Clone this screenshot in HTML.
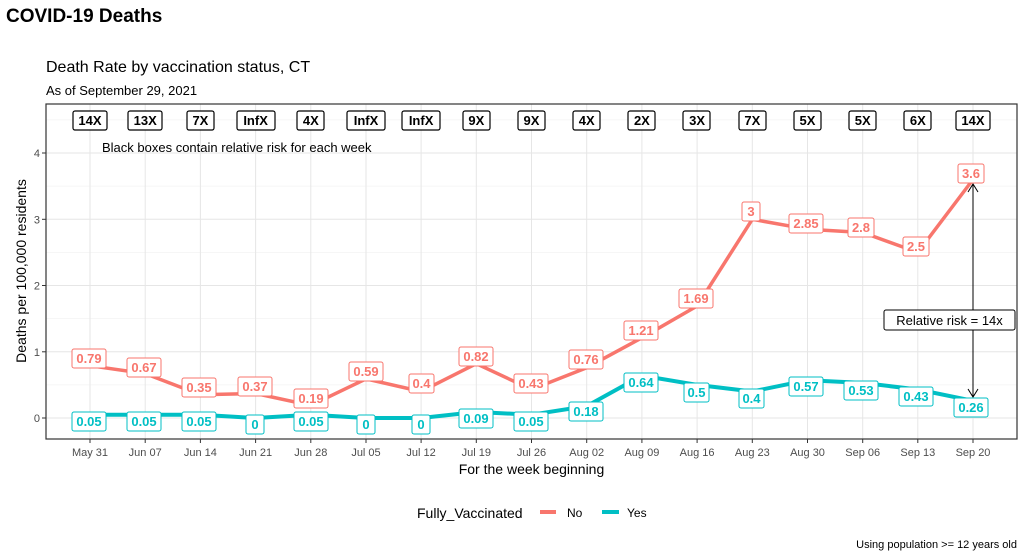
<!DOCTYPE html>
<html><head><meta charset="utf-8"><style>
body{margin:0;background:#fff;width:1029px;height:560px;overflow:hidden}
svg{display:block;font-family:"Liberation Sans",Arial,sans-serif}
.rl{fill:#fff;stroke:#F8766D;stroke-width:1}
.rt{fill:#F8766D;font-weight:bold;font-size:13px;text-anchor:middle}
.tl{fill:#fff;stroke:#00BFC4;stroke-width:1}
.tt{fill:#00BFC4;font-weight:bold;font-size:13px;text-anchor:middle}
.bb{fill:#fff;stroke:#000;stroke-width:1.2}
.bt{fill:#000;font-weight:bold;font-size:13px;text-anchor:middle}
.xt{fill:#4d4d4d;font-size:11px;text-anchor:middle}
.yt{fill:#4d4d4d;font-size:11px;text-anchor:end}
</style></head><body>
<svg width="1029" height="560" viewBox="0 0 1029 560">
<text x="6" y="22" font-size="19" font-weight="bold" fill="#000">COVID-19 Deaths</text>
<text x="46" y="72" font-size="16" fill="#000">Death Rate by vaccination status, CT</text>
<text x="46" y="95" font-size="13" fill="#000">As of September 29, 2021</text>
<!-- grid -->
<g stroke="#f3f3f3" stroke-width="0.8">
<line x1="46" x2="1017" y1="384.9" y2="384.9"/><line x1="46" x2="1017" y1="318.6" y2="318.6"/><line x1="46" x2="1017" y1="252.4" y2="252.4"/><line x1="46" x2="1017" y1="186.1" y2="186.1"/><line x1="46" x2="1017" y1="119.9" y2="119.9"/>
</g>
<g stroke="#e6e6e6" stroke-width="1">
<line x1="46" x2="1017" y1="418" y2="418"/><line x1="46" x2="1017" y1="351.8" y2="351.8"/><line x1="46" x2="1017" y1="285.5" y2="285.5"/><line x1="46" x2="1017" y1="219.3" y2="219.3"/><line x1="46" x2="1017" y1="153" y2="153"/>
<line y1="104" y2="439" x1="90" x2="90"/><line y1="104" y2="439" x1="145.2" x2="145.2"/><line y1="104" y2="439" x1="200.4" x2="200.4"/><line y1="104" y2="439" x1="255.6" x2="255.6"/><line y1="104" y2="439" x1="310.8" x2="310.8"/><line y1="104" y2="439" x1="366" x2="366"/><line y1="104" y2="439" x1="421.1" x2="421.1"/><line y1="104" y2="439" x1="476.3" x2="476.3"/><line y1="104" y2="439" x1="531.5" x2="531.5"/><line y1="104" y2="439" x1="586.7" x2="586.7"/><line y1="104" y2="439" x1="641.9" x2="641.9"/><line y1="104" y2="439" x1="697.1" x2="697.1"/><line y1="104" y2="439" x1="752.3" x2="752.3"/><line y1="104" y2="439" x1="807.5" x2="807.5"/><line y1="104" y2="439" x1="862.7" x2="862.7"/><line y1="104" y2="439" x1="917.8" x2="917.8"/><line y1="104" y2="439" x1="973" x2="973"/>
</g>
<rect x="46" y="104" width="971" height="335" fill="none" stroke="#333" stroke-width="1.2"/>
<!-- y ticks -->
<g stroke="#333"><line x1="42" x2="46" y1="418" y2="418"/><line x1="42" x2="46" y1="351.8" y2="351.8"/><line x1="42" x2="46" y1="285.5" y2="285.5"/><line x1="42" x2="46" y1="219.3" y2="219.3"/><line x1="42" x2="46" y1="153" y2="153"/></g>
<text class="yt" x="40" y="422">0</text><text class="yt" x="40" y="355.8">1</text><text class="yt" x="40" y="289.5">2</text><text class="yt" x="40" y="223.3">3</text><text class="yt" x="40" y="157">4</text>
<text transform="translate(26,271) rotate(-90)" font-size="14" text-anchor="middle" fill="#000">Deaths per 100,000 residents</text>
<!-- x ticks -->
<g stroke="#333"><line y1="439" y2="443" x1="90" x2="90"/><line y1="439" y2="443" x1="145.2" x2="145.2"/><line y1="439" y2="443" x1="200.4" x2="200.4"/><line y1="439" y2="443" x1="255.6" x2="255.6"/><line y1="439" y2="443" x1="310.8" x2="310.8"/><line y1="439" y2="443" x1="366" x2="366"/><line y1="439" y2="443" x1="421.1" x2="421.1"/><line y1="439" y2="443" x1="476.3" x2="476.3"/><line y1="439" y2="443" x1="531.5" x2="531.5"/><line y1="439" y2="443" x1="586.7" x2="586.7"/><line y1="439" y2="443" x1="641.9" x2="641.9"/><line y1="439" y2="443" x1="697.1" x2="697.1"/><line y1="439" y2="443" x1="752.3" x2="752.3"/><line y1="439" y2="443" x1="807.5" x2="807.5"/><line y1="439" y2="443" x1="862.7" x2="862.7"/><line y1="439" y2="443" x1="917.8" x2="917.8"/><line y1="439" y2="443" x1="973" x2="973"/></g>
<g class="xt"><text class="xt" x="90" y="456">May 31</text><text class="xt" x="145.2" y="456">Jun 07</text><text class="xt" x="200.4" y="456">Jun 14</text><text class="xt" x="255.6" y="456">Jun 21</text><text class="xt" x="310.8" y="456">Jun 28</text><text class="xt" x="366" y="456">Jul 05</text><text class="xt" x="421.1" y="456">Jul 12</text><text class="xt" x="476.3" y="456">Jul 19</text><text class="xt" x="531.5" y="456">Jul 26</text><text class="xt" x="586.7" y="456">Aug 02</text><text class="xt" x="641.9" y="456">Aug 09</text><text class="xt" x="697.1" y="456">Aug 16</text><text class="xt" x="752.3" y="456">Aug 23</text><text class="xt" x="807.5" y="456">Aug 30</text><text class="xt" x="862.7" y="456">Sep 06</text><text class="xt" x="917.8" y="456">Sep 13</text><text class="xt" x="973" y="456">Sep 20</text></g>
<text x="531.5" y="474" font-size="14" text-anchor="middle" fill="#000">For the week beginning</text>
<!-- lines -->
<polyline fill="none" stroke="#F8766D" stroke-width="3.5" stroke-linejoin="round" points="90,365.7 145.2,373.6 200.4,394.8 255.6,393.5 310.8,405.4 366,378.9 421.1,391.5 476.3,363.7 531.5,389.5 586.7,367.7 641.9,337.8 697.1,306 752.3,219.3 807.5,229.2 862.7,232.5 917.8,252.4 973,179.5"/>
<polyline fill="none" stroke="#00BFC4" stroke-width="4" stroke-linejoin="round" points="90,414.7 145.2,414.7 200.4,414.7 255.6,418 310.8,414.7 366,418 421.1,418 476.3,412 531.5,414.7 586.7,406.1 641.9,375.6 697.1,384.9 752.3,391.5 807.5,380.2 862.7,382.9 917.8,389.5 973,400.8"/>
<!-- arrow -->
<g stroke="#000" stroke-width="1" fill="none"><line x1="973" y1="184" x2="973" y2="397"/><polyline points="968,192 973,184 978,192"/><polyline points="968,389 973,397 978,389"/></g>
<rect x="884" y="310" width="131" height="20" rx="2" fill="#fff" stroke="#000"/>
<text x="949.5" y="325" font-size="13" text-anchor="middle" fill="#000">Relative risk = 14x</text>
<!-- red labels -->
<g>
<rect class="rl" x="72" y="349" width="34" height="19" rx="2"/><text class="rt" x="89" y="363">0.79</text>
<rect class="rl" x="127" y="358" width="34" height="19" rx="2"/><text class="rt" x="144" y="372">0.67</text>
<rect class="rl" x="182" y="378" width="34" height="19" rx="2"/><text class="rt" x="199" y="392">0.35</text>
<rect class="rl" x="238" y="377" width="34" height="19" rx="2"/><text class="rt" x="255" y="391">0.37</text>
<rect class="rl" x="294" y="389" width="34" height="19" rx="2"/><text class="rt" x="311" y="403">0.19</text>
<rect class="rl" x="349" y="362" width="34" height="19" rx="2"/><text class="rt" x="366" y="376">0.59</text>
<rect class="rl" x="409" y="374" width="25" height="19" rx="2"/><text class="rt" x="421.5" y="388">0.4</text>
<rect class="rl" x="459" y="347" width="34" height="19" rx="2"/><text class="rt" x="476" y="361">0.82</text>
<rect class="rl" x="514" y="374" width="34" height="19" rx="2"/><text class="rt" x="531" y="388">0.43</text>
<rect class="rl" x="569" y="350" width="34" height="19" rx="2"/><text class="rt" x="586" y="364">0.76</text>
<rect class="rl" x="624" y="321" width="34" height="19" rx="2"/><text class="rt" x="641" y="335">1.21</text>
<rect class="rl" x="679" y="289" width="34" height="19" rx="2"/><text class="rt" x="696" y="303">1.69</text>
<rect class="rl" x="742" y="202" width="18" height="19" rx="2"/><text class="rt" x="751" y="216">3</text>
<rect class="rl" x="789" y="214" width="34" height="19" rx="2"/><text class="rt" x="806" y="228">2.85</text>
<rect class="rl" x="848" y="218" width="26" height="19" rx="2"/><text class="rt" x="861" y="232">2.8</text>
<rect class="rl" x="903" y="237" width="26" height="19" rx="2"/><text class="rt" x="916" y="251">2.5</text>
<rect class="rl" x="958" y="164" width="26" height="19" rx="2"/><text class="rt" x="971" y="178">3.6</text>
</g>
<!-- teal labels -->
<g>
<rect class="tl" x="72" y="412" width="34" height="19" rx="2"/><text class="tt" x="89" y="426">0.05</text>
<rect class="tl" x="127" y="412" width="34" height="19" rx="2"/><text class="tt" x="144" y="426">0.05</text>
<rect class="tl" x="182" y="412" width="34" height="19" rx="2"/><text class="tt" x="199" y="426">0.05</text>
<rect class="tl" x="246" y="415" width="18" height="19" rx="2"/><text class="tt" x="255" y="429">0</text>
<rect class="tl" x="294" y="412" width="34" height="19" rx="2"/><text class="tt" x="311" y="426">0.05</text>
<rect class="tl" x="357" y="415" width="18" height="19" rx="2"/><text class="tt" x="366" y="429">0</text>
<rect class="tl" x="412" y="415" width="18" height="19" rx="2"/><text class="tt" x="421" y="429">0</text>
<rect class="tl" x="459" y="409" width="34" height="19" rx="2"/><text class="tt" x="476" y="423">0.09</text>
<rect class="tl" x="514" y="412" width="34" height="19" rx="2"/><text class="tt" x="531" y="426">0.05</text>
<rect class="tl" x="569" y="402" width="34" height="19" rx="2"/><text class="tt" x="586" y="416">0.18</text>
<rect class="tl" x="624" y="373" width="34" height="19" rx="2"/><text class="tt" x="641" y="387">0.64</text>
<rect class="tl" x="684" y="383" width="25" height="19" rx="2"/><text class="tt" x="696.5" y="397">0.5</text>
<rect class="tl" x="739" y="389" width="25" height="19" rx="2"/><text class="tt" x="751.5" y="403">0.4</text>
<rect class="tl" x="789" y="377" width="34" height="19" rx="2"/><text class="tt" x="806" y="391">0.57</text>
<rect class="tl" x="844" y="381" width="34" height="19" rx="2"/><text class="tt" x="861" y="395">0.53</text>
<rect class="tl" x="899" y="387" width="34" height="19" rx="2"/><text class="tt" x="916" y="401">0.43</text>
<rect class="tl" x="954" y="398" width="34" height="19" rx="2"/><text class="tt" x="971" y="412">0.26</text>
</g>
<!-- black boxes -->
<g>
<rect class="bb" x="73" y="111" width="34" height="19" rx="2"/><text class="bt" x="90" y="125">14X</text>
<rect class="bb" x="128" y="111" width="34" height="19" rx="2"/><text class="bt" x="145.2" y="125">13X</text>
<rect class="bb" x="187" y="111" width="27" height="19" rx="2"/><text class="bt" x="200.4" y="125">7X</text>
<rect class="bb" x="237" y="111" width="38" height="19" rx="2"/><text class="bt" x="255.6" y="125">InfX</text>
<rect class="bb" x="297" y="111" width="27" height="19" rx="2"/><text class="bt" x="310.8" y="125">4X</text>
<rect class="bb" x="347" y="111" width="38" height="19" rx="2"/><text class="bt" x="366" y="125">InfX</text>
<rect class="bb" x="402" y="111" width="38" height="19" rx="2"/><text class="bt" x="421.1" y="125">InfX</text>
<rect class="bb" x="463" y="111" width="27" height="19" rx="2"/><text class="bt" x="476.3" y="125">9X</text>
<rect class="bb" x="518" y="111" width="27" height="19" rx="2"/><text class="bt" x="531.5" y="125">9X</text>
<rect class="bb" x="573" y="111" width="27" height="19" rx="2"/><text class="bt" x="586.7" y="125">4X</text>
<rect class="bb" x="628" y="111" width="27" height="19" rx="2"/><text class="bt" x="641.9" y="125">2X</text>
<rect class="bb" x="683" y="111" width="27" height="19" rx="2"/><text class="bt" x="697.1" y="125">3X</text>
<rect class="bb" x="739" y="111" width="27" height="19" rx="2"/><text class="bt" x="752.3" y="125">7X</text>
<rect class="bb" x="794" y="111" width="27" height="19" rx="2"/><text class="bt" x="807.5" y="125">5X</text>
<rect class="bb" x="849" y="111" width="27" height="19" rx="2"/><text class="bt" x="862.7" y="125">5X</text>
<rect class="bb" x="904" y="111" width="27" height="19" rx="2"/><text class="bt" x="917.8" y="125">6X</text>
<rect class="bb" x="956" y="111" width="34" height="19" rx="2"/><text class="bt" x="973" y="125">14X</text>
</g>
<text x="102" y="152" font-size="13" fill="#000">Black boxes contain relative risk for each week</text>
<!-- legend -->
<text x="417" y="518" font-size="14" fill="#000">Fully_Vaccinated</text>
<line x1="540" x2="556" y1="512" y2="512" stroke="#F8766D" stroke-width="4"/>
<text x="567" y="517" font-size="12" fill="#000">No</text>
<line x1="602" x2="619" y1="512" y2="512" stroke="#00BFC4" stroke-width="4"/>
<text x="627" y="517" font-size="12" fill="#000">Yes</text>
<text x="1017" y="548" font-size="11" fill="#000" text-anchor="end">Using population &gt;= 12 years old</text>
</svg>
</body></html>
